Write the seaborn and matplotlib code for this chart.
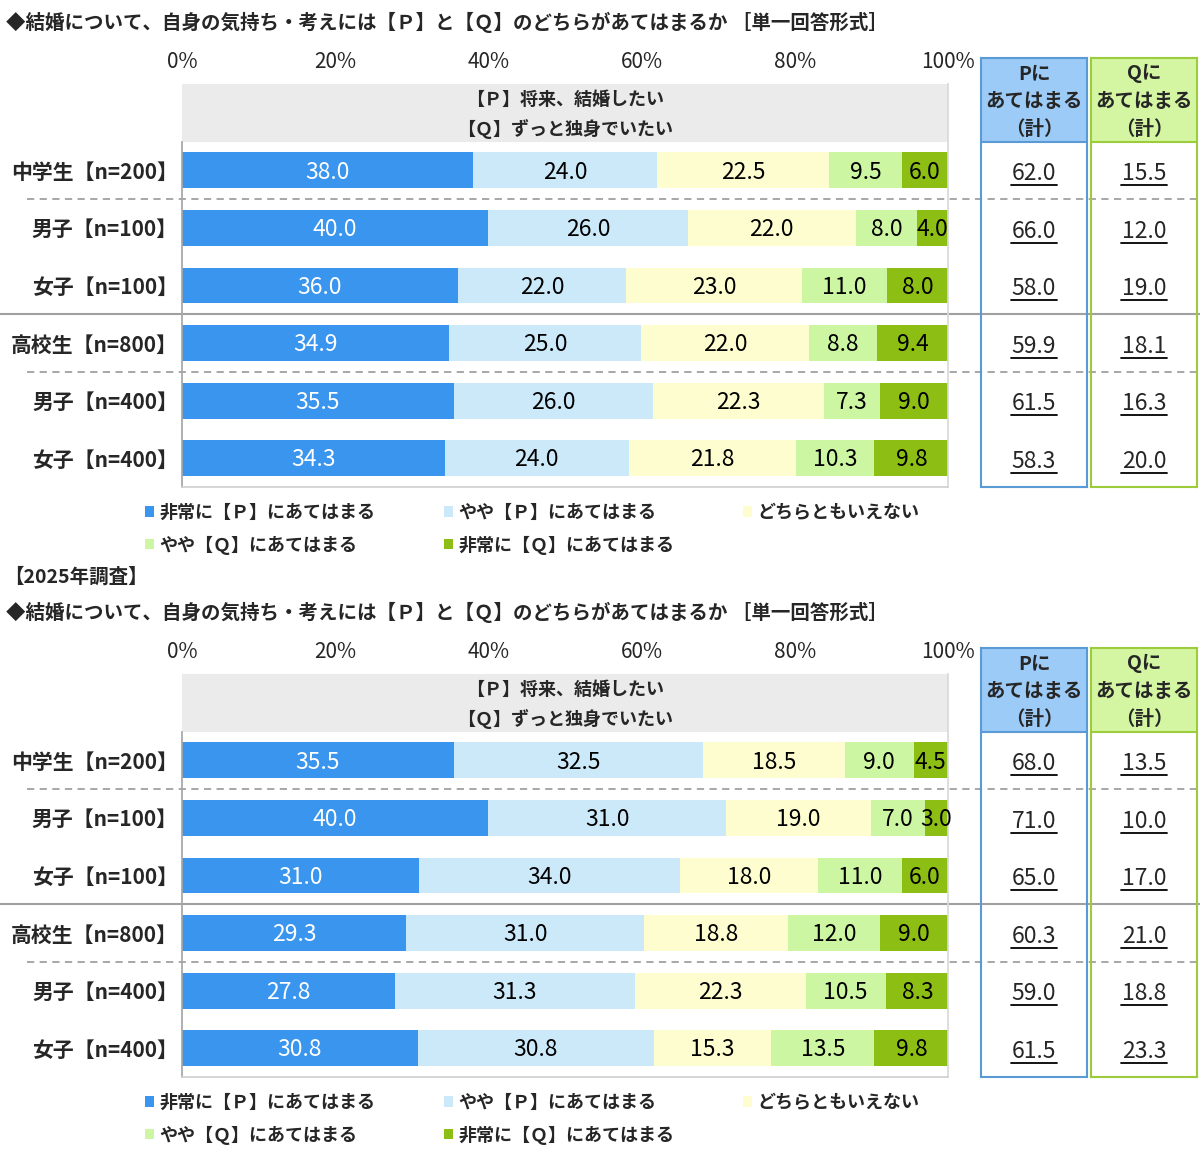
import numpy as np
import pandas as pd
import seaborn as sns
import matplotlib.pyplot as plt
from matplotlib.patches import Patch

sns.set_theme(style='white')
FAM = ['Noto Sans CJK JP', 'DejaVu Sans']
plt.rcParams['font.family'] = FAM

# ---------------- data ----------------
categories = ['中学生【n=200】', '男子【n=100】', '女子【n=100】',
              '高校生【n=800】', '男子【n=400】', '女子【n=400】']
series_names = ['非常に【Ｐ】にあてはまる', 'やや【Ｐ】にあてはまる', 'どちらともいえない',
                'やや【Ｑ】にあてはまる', '非常に【Ｑ】にあてはまる']
tick_labels = ['0%', '20%', '40%', '60%', '80%', '100%']

# upper panel (previous survey)
prev_strong_p = [38.0, 40.0, 36.0, 34.9, 35.5, 34.3]
prev_some_p = [24.0, 26.0, 22.0, 25.0, 26.0, 24.0]
prev_neither = [22.5, 22.0, 23.0, 22.0, 22.3, 21.8]
prev_some_q = [9.5, 8.0, 11.0, 8.8, 7.3, 10.3]
prev_strong_q = [6.0, 4.0, 8.0, 9.4, 9.0, 9.8]
prev_p_total = ['62.0', '66.0', '58.0', '59.9', '61.5', '58.3']
prev_q_total = ['15.5', '12.0', '19.0', '18.1', '16.3', '20.0']

# lower panel (2025 survey)
cur_strong_p = [35.5, 40.0, 31.0, 29.3, 27.8, 30.8]
cur_some_p = [32.5, 31.0, 34.0, 31.0, 31.3, 30.8]
cur_neither = [18.5, 19.0, 18.0, 18.8, 22.3, 15.3]
cur_some_q = [9.0, 7.0, 11.0, 12.0, 10.5, 13.5]
cur_strong_q = [4.5, 3.0, 6.0, 9.0, 8.3, 9.8]
cur_p_total = ['68.0', '71.0', '65.0', '60.3', '59.0', '61.5']
cur_q_total = ['13.5', '10.0', '17.0', '21.0', '18.8', '23.3']

title = '◆結婚について、自身の気持ち・考えには【Ｐ】と【Ｑ】のどちらがあてはまるか ［単一回答形式］'
header = '【Ｐ】将来、結婚したい\n【Ｑ】ずっと独身でいたい'
survey_label = '【2025年調査】'

colors = ['#3A95EE', '#CCE9FA', '#FDFDCF', '#CDF6A3', '#8DBE14']
p_border, p_fill = '#5B9BD5', '#9DCBF7'
q_border, q_fill = '#9CCB3B', '#D4F6A2'

# ---------------- layout helpers ----------------
W, H = 1200, 1149
fig = plt.figure(figsize=(W / 100, H / 100), dpi=100)
fig.patch.set_facecolor('white')


def ax_at(l, t, r, b):
    return fig.add_axes([l / W, 1 - b / H, (r - l) / W, (b - t) / H])


ROW = 57.6  # px per row


def panel(off, vals, ptot, qtot):
    # title
    fig.text(6 / W, 1 - (22 + off) / H, title, fontsize=14, fontweight='bold',
             va='center', ha='left', family=FAM)
    L, R, T, B = 182, 948, 84 + off, 487 + off
    ax = ax_at(L, T, R, B)
    arr = np.array(vals).T  # rows x series
    cum = np.cumsum(arr, axis=1)
    for k in reversed(range(5)):
        df = pd.DataFrame({'row': categories, 'v': cum[:, k]})
        sns.barplot(data=df, x='v', y='row', order=categories, orient='h',
                    color=colors[k], saturation=1, width=0.625, linewidth=0,
                    errorbar=None, ax=ax)
    ax.set_xlim(0, 100)
    ax.set_ylim(5.5, -1.5)
    ax.axhspan(-1.5, -0.5, color='#EBEBEB', zorder=0.5, lw=0)
    ax.text(50, -0.97, header, ha='center', va='center', fontsize=13,
            fontweight='bold', linespacing=1.6)
    for i in range(6):
        for k in range(5):
            v = arr[i, k]
            ax.text(cum[i, k] - v / 2, i + 0.03, f'{v:.1f}', ha='center',
                    va='center', fontsize=16.5,
                    color='white' if k == 0 else 'black', zorder=5)
    ax.set_xlabel('')
    ax.set_ylabel('')
    ax.xaxis.set_ticks_position('top')
    ax.set_xticks(range(0, 101, 20))
    ax.set_xticklabels(tick_labels, fontsize=15)
    ax.tick_params(axis='x', length=0, pad=8)
    ax.set_yticks(range(6))
    ax.set_yticklabels(categories, fontsize=15, fontweight='bold')
    ax.tick_params(axis='y', length=0, pad=3)
    ax.spines['top'].set_visible(False)
    ax.spines['left'].set_color('#A6A6A6')
    ax.spines['left'].set_bounds(5.5, -0.5)
    ax.spines['bottom'].set_color('#D0D0D0')
    ax.spines['right'].set_color('#D9D9D9')
    w = R - L
    x0d, x0s, x1 = (27 - L) / w, (0 - L) / w, (W - L) / w
    ax.axhline(0.5, xmin=x0d, xmax=x1, color='#A0A0A0', lw=1.3,
               ls=(0, (4, 3)), clip_on=False, zorder=0.6)
    ax.axhline(3.5, xmin=x0d, xmax=x1, color='#A0A0A0', lw=1.3,
               ls=(0, (4, 3)), clip_on=False, zorder=0.6)
    ax.axhline(2.5, xmin=x0s, xmax=x1, color='#A0A0A0', lw=1.5,
               clip_on=False, zorder=0.6)

    # total boxes
    ytop = -0.5 - (142 - 58) / ROW
    for (bl, br, lab, tots, bc, fc) in [(981, 1087, 'Pに', ptot, p_border, p_fill),
                                        (1091, 1197, 'Qに', qtot, q_border, q_fill)]:
        bx = ax_at(bl, 58 + off, br, 487 + off)
        bx.patch.set_alpha(0)
        bx.set_xlim(0, 1)
        bx.set_ylim(5.5, ytop)
        bx.set_xticks([])
        bx.set_yticks([])
        bx.axhspan(ytop, -0.5, color=fc, lw=0)
        bx.axhline(-0.5, color=bc, lw=1.5)
        for s in bx.spines.values():
            s.set_color(bc)
            s.set_linewidth(1.5)
        bx.text(0.5, (ytop - 0.5) / 2 + 0.03, f'{lab}\nあてはまる\n（計）',
                ha='center', va='center', fontsize=14, fontweight='bold',
                linespacing=1.6)
        for i, t in enumerate(tots):
            bx.text(0.5, i + 0.05, t, ha='center', va='center', fontsize=16.5)
            bx.plot([0.28, 0.72], [i + 0.25, i + 0.25], color='black', lw=1.3)

    # legend
    handles = [Patch(facecolor=c, edgecolor='none', label=n)
               for c, n in zip(colors, series_names)]
    order = [0, 3, 1, 4, 2]
    fig.legend([handles[j] for j in order], [series_names[j] for j in order],
               loc='upper left', bbox_to_anchor=(145 / W, 1 - (503 + off) / H),
               ncol=3, frameon=False, borderpad=0, borderaxespad=0,
               handlelength=0.5, handleheight=0.5, handletextpad=0.3,
               columnspacing=3.8, labelspacing=0.75,
               prop={'weight': 'bold', 'size': 13, 'family': FAM})
    return ax


panel(0, [prev_strong_p, prev_some_p, prev_neither, prev_some_q, prev_strong_q],
      prev_p_total, prev_q_total)
fig.text(4 / W, 1 - 577 / H, survey_label, fontsize=14, fontweight='bold',
         va='center', ha='left', family=FAM)
panel(590, [cur_strong_p, cur_some_p, cur_neither, cur_some_q, cur_strong_q],
      cur_p_total, cur_q_total)

fig.savefig('out.png', dpi=100, facecolor='white')
